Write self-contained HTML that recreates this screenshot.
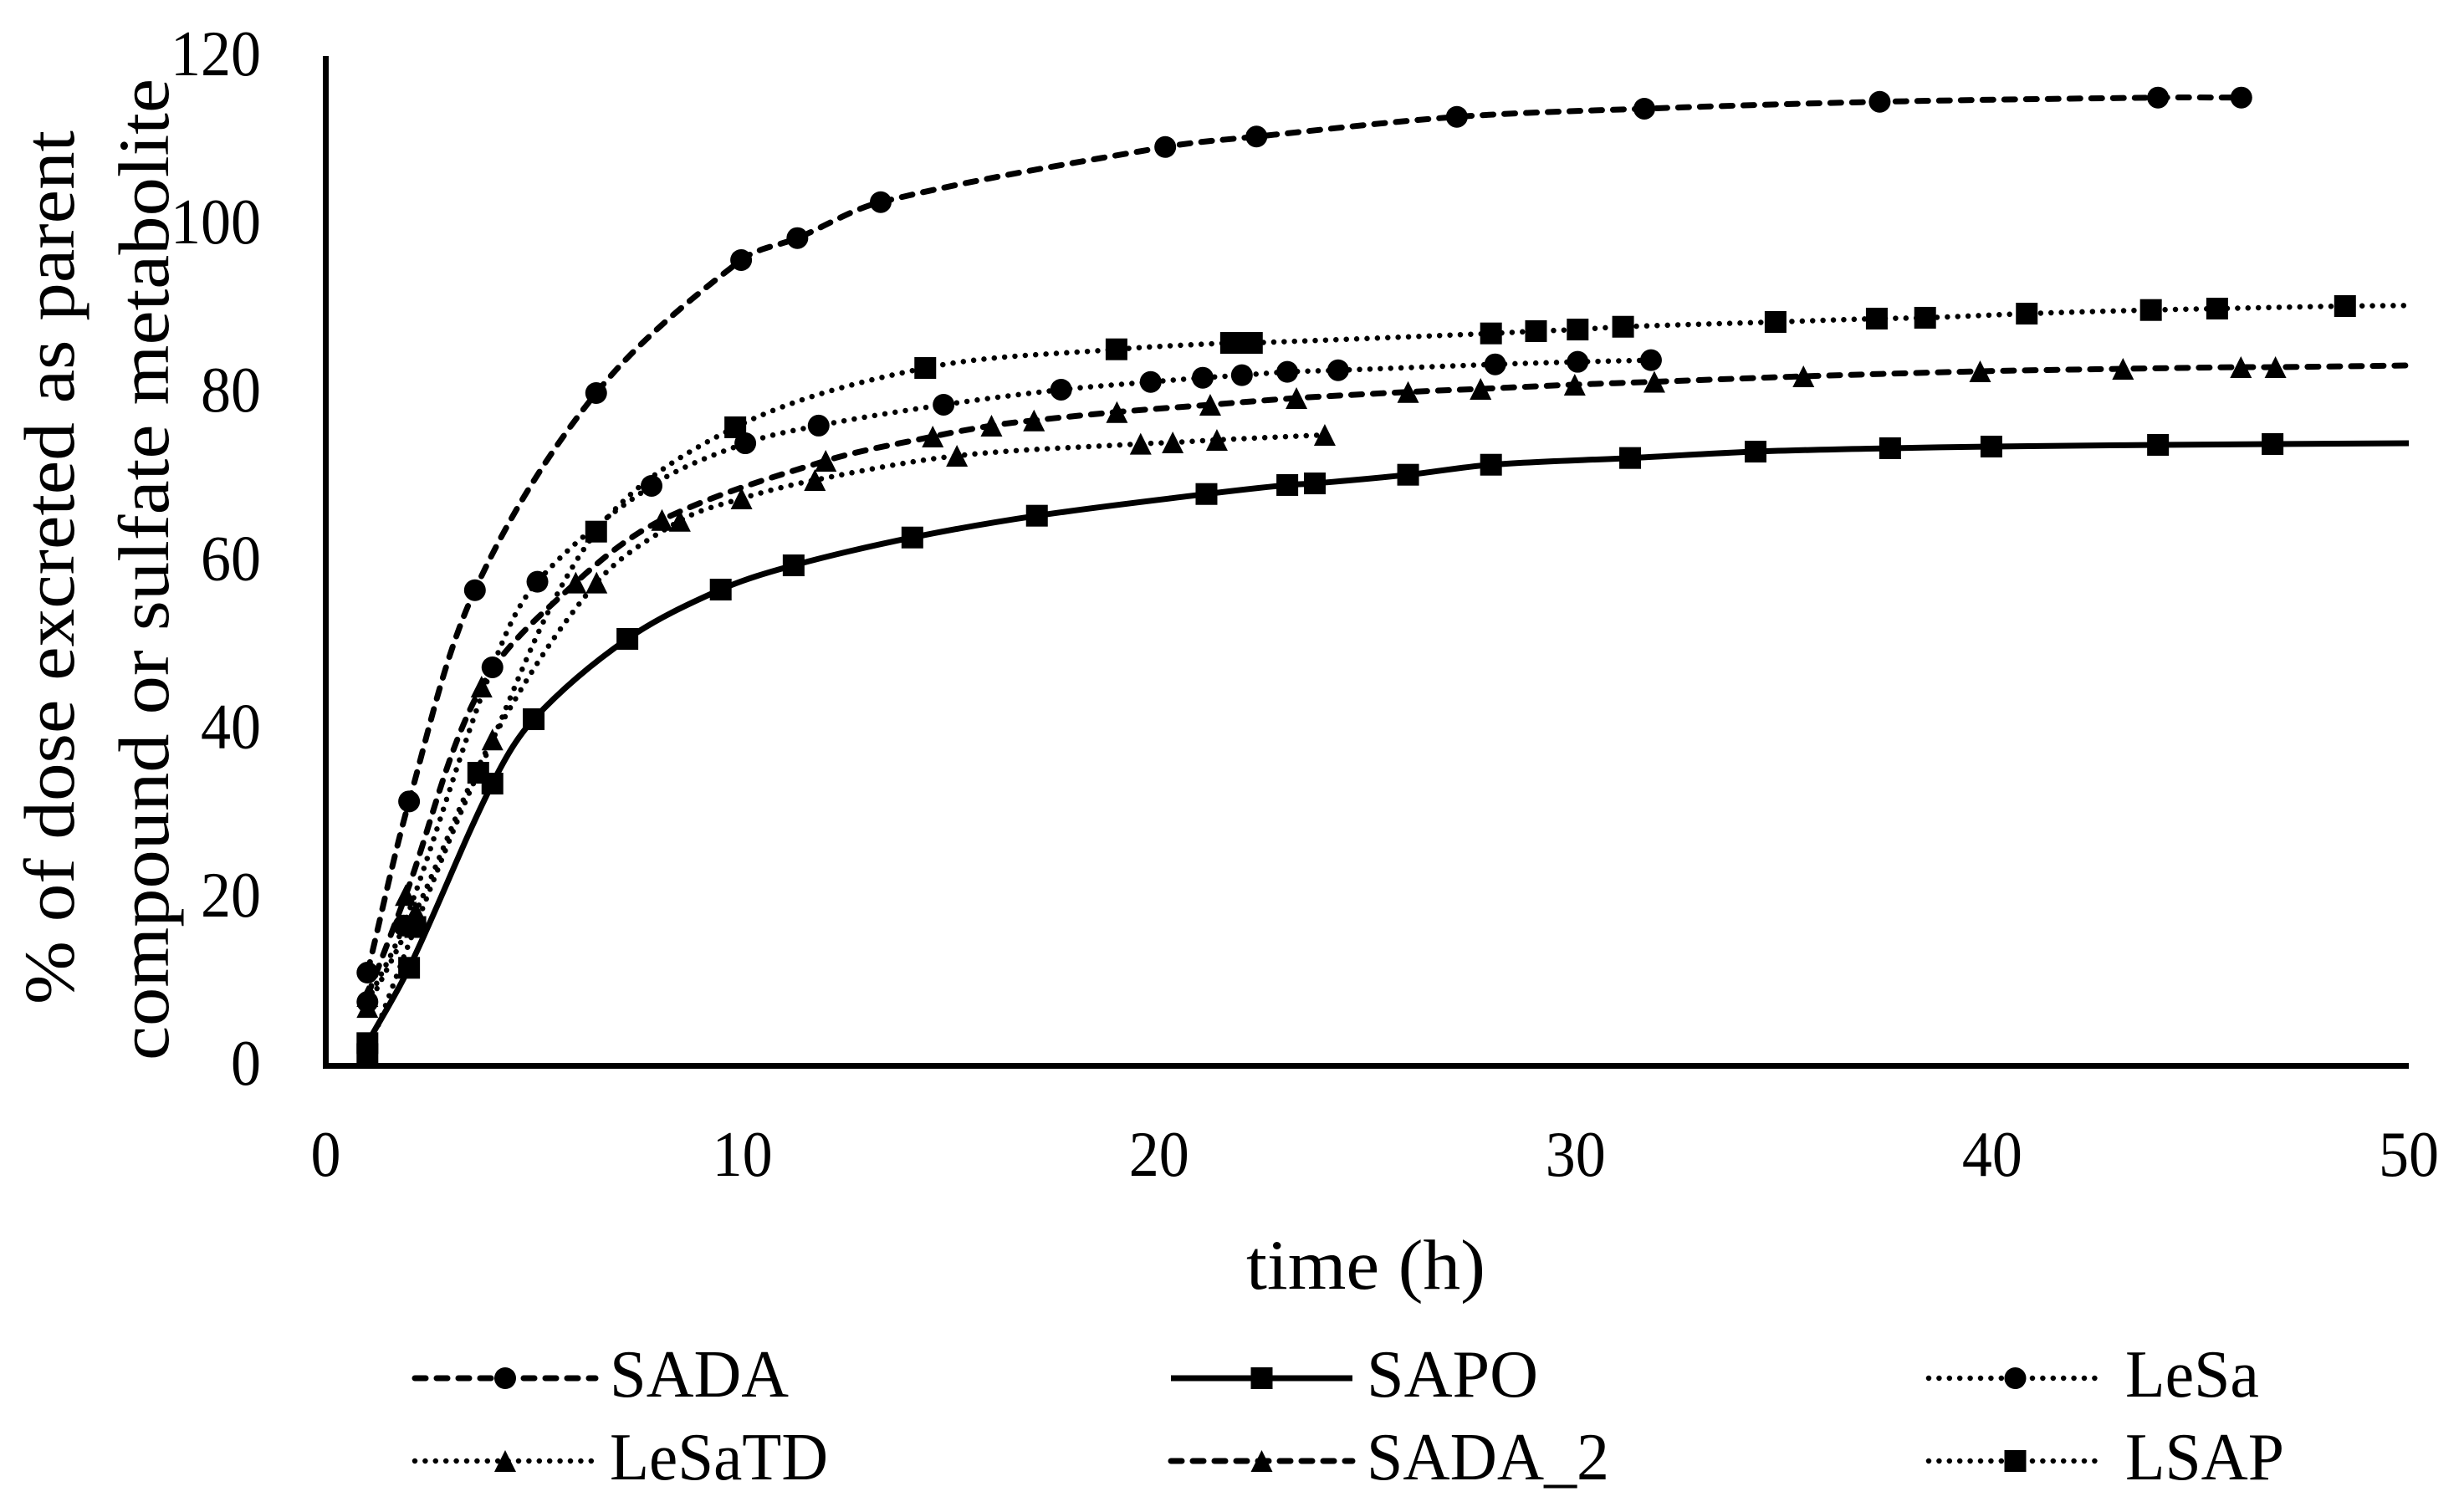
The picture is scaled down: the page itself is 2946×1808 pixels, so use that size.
<!DOCTYPE html>
<html lang="en">
<head>
<meta charset="utf-8">
<title>Percent of dose excreted over time</title>
<style>
html,body{margin:0;padding:0;background:#fff;}
svg{display:block;}
text{font-family:"Liberation Serif",serif;fill:#000;}
</style>
</head>
<body>
<svg id="chart" xmlns="http://www.w3.org/2000/svg" width="2946" height="1808" viewBox="0 0 2946 1808">
  <rect x="0" y="0" width="2946" height="1808" fill="#fff"/>
  <g id="series-layer"></g>
  <rect x="386" y="67" width="7" height="1211" fill="#000"/>
  <rect x="388" y="1271" width="2492" height="7" fill="#000"/>
  <g id="y-ticks"></g>
  <g id="x-ticks"></g>
  <text x="1490" y="1541" font-size="85" textLength="286" lengthAdjust="spacingAndGlyphs">time (h)</text>
  <text transform="translate(88 1201) rotate(-90)" font-size="86" textLength="1045" lengthAdjust="spacingAndGlyphs">% of dose excreted as parent</text>
  <text transform="translate(201 1268) rotate(-90)" font-size="86" textLength="1174" lengthAdjust="spacingAndGlyphs">compound or sulfate metabolite</text>
  <g id="legend"></g>
</svg>
<script>
const xTickLabels = [0, 10, 20, 30, 40, 50];
const yTickLabels = [0, 20, 40, 60, 80, 100, 120];

const sadaTimes = [1, 2, 3.58, 6.49, 9.97, 11.32, 13.32, 20.15, 22.34, 27.15, 31.65, 37.3, 43.98, 45.98];
const sadaValues = [11.08, 31.43, 56.54, 79.97, 95.78, 98.39, 102.66, 109.22, 110.46, 112.8, 113.77, 114.59, 115.09, 115.09];

const sapoTimes = [1, 2, 4, 4.99, 7.24, 9.48, 11.23, 14.08, 17.07, 21.14, 23.08, 23.74, 25.98, 27.97, 31.31, 34.32, 37.55, 39.98, 43.98, 46.73, 50];
const sapoValues = [2.7, 11.65, 33.55, 41.2, 50.75, 56.61, 59.49, 62.8, 65.39, 67.97, 69.04, 69.23, 70.26, 71.45, 72.25, 73.01, 73.41, 73.61, 73.81, 73.91, 74.01];

const lesaTimes = [1, 1.87, 4, 5.08, 7.82, 10.07, 11.83, 14.83, 17.65, 19.8, 21.05, 21.99, 23.08, 24.3, 28.07, 30.05, 31.81];
const lesaValues = [7.6, 16.68, 47.37, 57.54, 68.94, 74, 76.1, 78.58, 80.37, 81.29, 81.79, 82.09, 82.49, 82.68, 83.38, 83.68, 83.88];

const lesatdTimes = [1, 2.16, 4, 6.5, 8.5, 9.98, 11.74, 15.15, 19.56, 20.33, 21.39, 23.98];
const lesatdValues = [7, 18.3, 38.79, 57.44, 64.79, 67.44, 69.63, 72.51, 73.94, 74.1, 74.4, 75];

const sada2Times = [1, 1.92, 3.74, 6, 8.07, 12, 14.57, 15.98, 17, 18.99, 21.23, 23.3, 25.98, 27.72, 29.98, 31.89, 35.47, 39.71, 43.14, 45.97, 46.8, 50];
const sada2Values = [8.3, 20.3, 45.08, 57.44, 64.89, 71.92, 74.8, 76.09, 76.72, 77.71, 78.58, 79.37, 80.1, 80.47, 80.97, 81.31, 81.96, 82.55, 82.85, 83.05, 83.05, 83.25];

const lsapTimes = [1, 2.15, 3.66, 6.49, 9.83, 14.39, 18.98, 21.73, 22.23, 27.97, 29.05, 30.05, 31.14, 34.8, 37.23, 38.39, 40.83, 43.81, 45.4, 48.47, 50];
const lsapValues = [1.4, 16.5, 34.84, 63.5, 75.9, 82.95, 85.17, 85.93, 85.93, 87.06, 87.33, 87.52, 87.85, 88.42, 88.82, 88.92, 89.41, 89.84, 90.01, 90.31, 90.38];

const seriesNames = ['SADA', 'SAPO', 'LeSa', 'LeSaTD', 'SADA_2', 'LSAP'];
const seriesTimes = [sadaTimes, sapoTimes, lesaTimes, lesatdTimes, sada2Times, lsapTimes];
const seriesValues = [sadaValues, sapoValues, lesaValues, lesatdValues, sada2Values, lsapValues];
const seriesMarkers = ['circle', 'square', 'circle', 'triangle', 'triangle', 'square'];
const seriesLines = ['dashed', 'solid', 'dotted', 'dotted', 'dashed', 'dotted'];
const seriesUnmarkedTail = [0, 1, 0, 0, 1, 1];

const NS = 'http://www.w3.org/2000/svg';
const MARKER_SIZE = 26;

function xScale(t) { return 389.5 + t * 49.81; }
function yScale(v) { return 1274.5 - v * 10.06; }

function make(tag, parent) {
  const el = document.createElementNS(NS, tag);
  parent.appendChild(el);
  return el;
}

function applyLineStyle(el, kind) {
  el.setAttribute('fill', 'none');
  el.setAttribute('stroke', '#000');
  if (kind === 'solid') {
    el.setAttribute('stroke-width', '7');
  } else if (kind === 'dashed') {
    el.setAttribute('stroke-width', '7');
    el.setAttribute('stroke-linecap', 'round');
    el.setAttribute('stroke-dasharray', '13 13');
  } else {
    el.setAttribute('stroke-width', '6.5');
    el.setAttribute('stroke-linecap', 'round');
    el.setAttribute('stroke-dasharray', '0 12.4');
  }
}

function tangentAt(points, i) {
  const a = points[Math.max(i - 1, 0)];
  const b = points[Math.min(i + 1, points.length - 1)];
  const dx = b[0] - a[0];
  const dy = b[1] - a[1];
  const len = Math.hypot(dx, dy) || 1;
  return [dx / len, dy / len];
}

function smoothPath(points) {
  let d = 'M' + points[0][0].toFixed(1) + ' ' + points[0][1].toFixed(1);
  for (let i = 0; i < points.length - 1; i++) {
    const p1 = points[i];
    const p2 = points[i + 1];
    const seg = Math.hypot(p2[0] - p1[0], p2[1] - p1[1]) / 3;
    const t1 = tangentAt(points, i);
    const t2 = tangentAt(points, i + 1);
    d += 'C' + (p1[0] + t1[0] * seg).toFixed(1) + ' ' + (p1[1] + t1[1] * seg).toFixed(1) + ' ' +
         (p2[0] - t2[0] * seg).toFixed(1) + ' ' + (p2[1] - t2[1] * seg).toFixed(1) + ' ' +
         p2[0].toFixed(1) + ' ' + p2[1].toFixed(1);
  }
  return d;
}

function drawMarker(parent, kind, cx, cy) {
  const h = MARKER_SIZE / 2;
  let el;
  if (kind === 'circle') {
    el = make('circle', parent);
    el.setAttribute('cx', cx);
    el.setAttribute('cy', cy);
    el.setAttribute('r', h);
  } else if (kind === 'square') {
    el = make('rect', parent);
    el.setAttribute('x', cx - h);
    el.setAttribute('y', cy - h);
    el.setAttribute('width', MARKER_SIZE);
    el.setAttribute('height', MARKER_SIZE);
  } else {
    el = make('polygon', parent);
    el.setAttribute('points', cx + ',' + (cy - h) + ' ' + (cx + h) + ',' + (cy + h) + ' ' + (cx - h) + ',' + (cy + h));
  }
  el.setAttribute('fill', '#000');
  return el;
}

const seriesLayer = document.getElementById('series-layer');
seriesNames.forEach(function (name, s) {
  const slug = name.toLowerCase().replace('_', '-');
  const group = make('g', seriesLayer);
  
  
  const times = seriesTimes[s];
  const values = seriesValues[s];
  const pts = times.map(function (t, i) { return [xScale(t), yScale(values[i])]; });
  const line = make('path', group);
  
  
  line.setAttribute('d', smoothPath(pts));
  applyLineStyle(line, seriesLines[s]);
  const markedCount = pts.length - seriesUnmarkedTail[s];
  for (let i = 0; i < markedCount; i++) {
    const mark = drawMarker(group, seriesMarkers[s], pts[i][0], pts[i][1]);
    
    
  }
});

const yTickGroup = document.getElementById('y-ticks');
yTickLabels.forEach(function (v) {
  const t = make('text', yTickGroup);
  
  
  t.setAttribute('x', 312);
  t.setAttribute('y', yScale(v) + 22.5);
  t.setAttribute('font-size', '77');
  t.setAttribute('text-anchor', 'end');
  t.setAttribute('textLength', String(v).length * 36);
  t.setAttribute('lengthAdjust', 'spacingAndGlyphs');
  t.textContent = String(v);
});

const xTickGroup = document.getElementById('x-ticks');
xTickLabels.forEach(function (v) {
  const t = make('text', xTickGroup);
  
  
  t.setAttribute('x', xScale(v));
  t.setAttribute('y', 1406);
  t.setAttribute('font-size', '77');
  t.setAttribute('text-anchor', 'middle');
  t.setAttribute('textLength', String(v).length * 36);
  t.setAttribute('lengthAdjust', 'spacingAndGlyphs');
  t.textContent = String(v);
});

const legendColumnStart = [496, 1400, 2306];
const legendColumnEnd = [712, 1617, 2513];
const legendTextStart = [729, 1634, 2541];
const legendRowY = [1648, 1747];
const legendTextWidth = [214, 205, 160, 261, 290, 190];
const legendGroup = document.getElementById('legend');
seriesNames.forEach(function (name, s) {
  const col = s % 3;
  const row = Math.floor(s / 3);
  const y = legendRowY[row];
  const slug = name.toLowerCase().replace('_', '-');
  const entry = make('g', legendGroup);
  
  
  const sample = make('line', entry);
  
  
  sample.setAttribute('x1', legendColumnStart[col]);
  sample.setAttribute('x2', legendColumnEnd[col]);
  sample.setAttribute('y1', y);
  sample.setAttribute('y2', y);
  applyLineStyle(sample, seriesLines[s]);
  const mk = drawMarker(entry, seriesMarkers[s], (legendColumnStart[col] + legendColumnEnd[col]) / 2, y);
  
  
  const label = make('text', entry);
  
  
  label.setAttribute('x', legendTextStart[col]);
  label.setAttribute('y', y + 22);
  label.setAttribute('font-size', '80');
  label.setAttribute('textLength', legendTextWidth[s]);
  label.setAttribute('lengthAdjust', 'spacingAndGlyphs');
  label.textContent = name;
});
</script>
</body>
</html>
